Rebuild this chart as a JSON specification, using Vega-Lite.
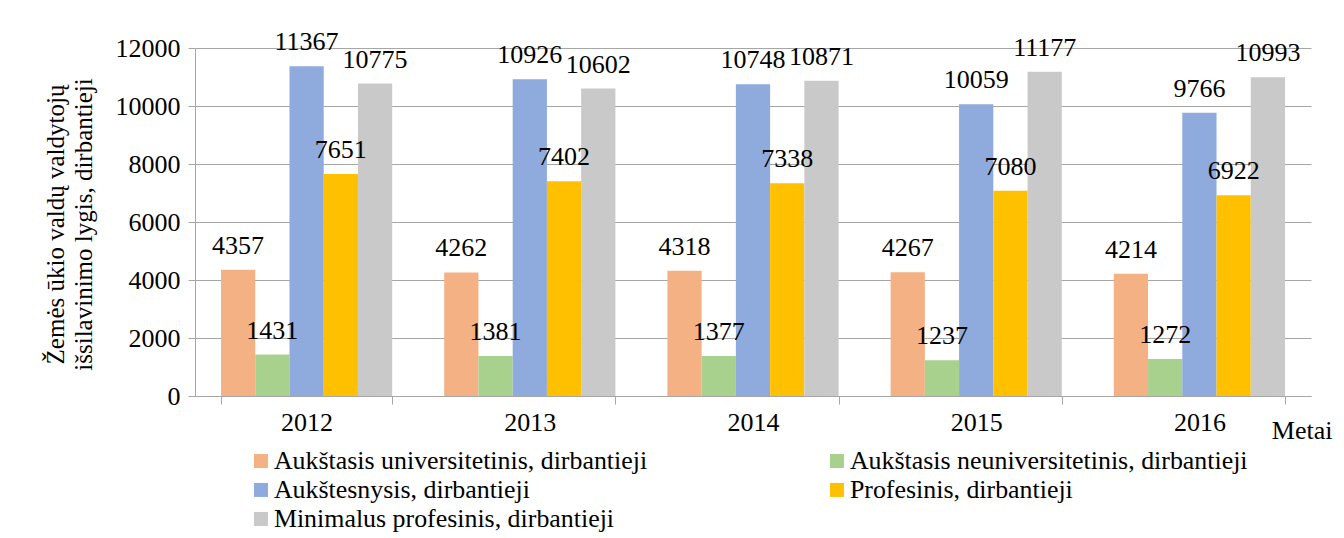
{
  "$schema": "https://vega.github.io/schema/vega-lite/v6.json",
  "width": 1116,
  "height": 348,
  "autosize": {"type": "none"},
  "padding": {"left": 195, "top": 48, "right": 33, "bottom": 142},
  "background": "white",
  "config": {
    "font": "Liberation Serif",
    "view": {"stroke": null},
    "text": {"font": "Liberation Serif"},
    "axis": {"labelFont": "Liberation Serif", "titleFont": "Liberation Serif", "labelColor": "#000", "titleColor": "#000", "titleFontWeight": "normal"},
    "legend": {"labelFont": "Liberation Serif", "titleFont": "Liberation Serif", "labelColor": "#000"}
  },
  "data": {
    "values": [
      {"year": "2012", "cat": "Aukštasis universitetinis, dirbantieji", "value": 4357},
      {"year": "2012", "cat": "Aukštasis neuniversitetinis, dirbantieji", "value": 1431},
      {"year": "2012", "cat": "Aukštesnysis, dirbantieji", "value": 11367},
      {"year": "2012", "cat": "Profesinis, dirbantieji", "value": 7651},
      {"year": "2012", "cat": "Minimalus profesinis, dirbantieji", "value": 10775},
      {"year": "2013", "cat": "Aukštasis universitetinis, dirbantieji", "value": 4262},
      {"year": "2013", "cat": "Aukštasis neuniversitetinis, dirbantieji", "value": 1381},
      {"year": "2013", "cat": "Aukštesnysis, dirbantieji", "value": 10926},
      {"year": "2013", "cat": "Profesinis, dirbantieji", "value": 7402},
      {"year": "2013", "cat": "Minimalus profesinis, dirbantieji", "value": 10602},
      {"year": "2014", "cat": "Aukštasis universitetinis, dirbantieji", "value": 4318},
      {"year": "2014", "cat": "Aukštasis neuniversitetinis, dirbantieji", "value": 1377},
      {"year": "2014", "cat": "Aukštesnysis, dirbantieji", "value": 10748},
      {"year": "2014", "cat": "Profesinis, dirbantieji", "value": 7338},
      {"year": "2014", "cat": "Minimalus profesinis, dirbantieji", "value": 10871},
      {"year": "2015", "cat": "Aukštasis universitetinis, dirbantieji", "value": 4267},
      {"year": "2015", "cat": "Aukštasis neuniversitetinis, dirbantieji", "value": 1237},
      {"year": "2015", "cat": "Aukštesnysis, dirbantieji", "value": 10059},
      {"year": "2015", "cat": "Profesinis, dirbantieji", "value": 7080},
      {"year": "2015", "cat": "Minimalus profesinis, dirbantieji", "value": 11177},
      {"year": "2016", "cat": "Aukštasis universitetinis, dirbantieji", "value": 4214},
      {"year": "2016", "cat": "Aukštasis neuniversitetinis, dirbantieji", "value": 1272},
      {"year": "2016", "cat": "Aukštesnysis, dirbantieji", "value": 9766},
      {"year": "2016", "cat": "Profesinis, dirbantieji", "value": 6922},
      {"year": "2016", "cat": "Minimalus profesinis, dirbantieji", "value": 10993}
    ]
  },
  "encoding": {
    "x": {
      "field": "year", "type": "nominal",
      "scale": {"paddingInner": 0.233, "paddingOuter": 0.1165},
      "axis": {
        "title": "Metai", "titleFontSize": 26, "titleAnchor": "end", "titleAlign": "right",
        "titleX": 1137, "titleY": 42, "titleBaseline": "alphabetic",
        "labelAngle": 0, "labelFontSize": 26, "labelPadding": 5,
        "tickBand": "extent", "tickSize": 8, "tickColor": "#a6a6a6",
        "domainColor": "#a6a6a6", "grid": false
      }
    },
    "xOffset": {
      "field": "cat", "type": "nominal",
      "scale": {"paddingInner": 0, "paddingOuter": 0, "domain": ["Aukštasis universitetinis, dirbantieji", "Aukštasis neuniversitetinis, dirbantieji", "Aukštesnysis, dirbantieji", "Profesinis, dirbantieji", "Minimalus profesinis, dirbantieji"]}
    },
    "y": {
      "field": "value", "type": "quantitative",
      "scale": {"domain": [0, 12000], "nice": false},
      "axis": {
        "values": [0, 2000, 4000, 6000, 8000, 10000, 12000],
        "title": ["Žemės ūkio valdų valdytojų", "išsilavinimo lygis, dirbantieji"],
        "titleFontSize": 25, "titleLineHeight": 28, "titleAngle": -90,
        "titleX": -140, "titleY": 176, "titleAlign": "center", "titleBaseline": "middle",
        "labelFontSize": 26, "labelPadding": 8, "format": "d",
        "tickSize": 7, "tickColor": "#a6a6a6", "domainColor": "#a6a6a6",
        "gridColor": "#a6a6a6", "gridWidth": 1
      }
    }
  },
  "layer": [
    {
      "mark": {"type": "bar"},
      "encoding": {
        "color": {
          "field": "cat", "type": "nominal", "title": null,
          "scale": {
            "domain": ["Aukštasis universitetinis, dirbantieji", "Aukštasis neuniversitetinis, dirbantieji", "Aukštesnysis, dirbantieji", "Profesinis, dirbantieji", "Minimalus profesinis, dirbantieji"],
            "range": ["#f4b183", "#a9d18e", "#8faadc", "#ffc000", "#c9c9c9"]
          },
          "legend": {
            "orient": "none", "legendX": 53, "legendY": 400, "columns": 2, "direction": "horizontal",
            "columnPadding": 176, "rowPadding": 2, "symbolType": "square", "symbolSize": 196,
            "symbolStrokeWidth": 0, "labelFontSize": 25.9, "labelOffset": 0, "labelLimit": 600,
            "labelFont": "Liberation Serif"
          }
        }
      }
    },
    {
      "mark": {"type": "text", "baseline": "alphabetic", "dy": -16, "fontSize": 26, "color": "#000", "font": "Liberation Serif"},
      "encoding": {"text": {"field": "value", "type": "quantitative", "format": "d"}}
    }
  ]
}
